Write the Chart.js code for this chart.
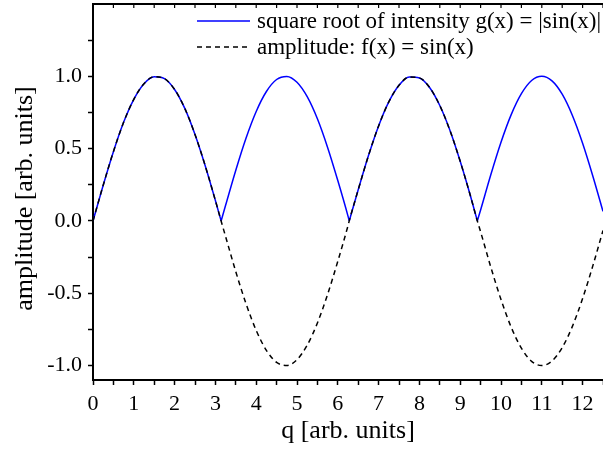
<!DOCTYPE html>
<html>
<head>
<meta charset="utf-8">
<script src="https://cdn.jsdelivr.net/npm/chart.js@4.4.1/dist/chart.umd.min.js"></script>
<style>
  html, body { margin: 0; padding: 0; background: #fff; }
</style>
</head>
<body>
<canvas id="sineChart" width="603" height="449"></canvas>
<script>
// amplitude f(x), every 0.25 plus the zero crossings
const qValues = [0, 0.25, 0.5, 0.75, 1.0, 1.25, 1.5, 1.75, 2.0, 2.25, 2.5, 2.75, 3.0, 3.14,
  3.25, 3.5, 3.75, 4.0, 4.25, 4.5, 4.75, 5.0, 5.25, 5.5, 5.75, 6.0, 6.25, 6.28,
  6.5, 6.75, 7.0, 7.25, 7.5, 7.75, 8.0, 8.25, 8.5, 8.75, 9.0, 9.25, 9.42,
  9.5, 9.75, 10.0, 10.25, 10.5, 10.75, 11.0, 11.25, 11.5, 11.75, 12.0, 12.25, 12.5];
const amplitude = [0, 0.247, 0.479, 0.682, 0.841, 0.949, 0.997, 0.984, 0.909, 0.778, 0.598, 0.382, 0.141, 0,
  -0.108, -0.351, -0.572, -0.757, -0.895, -0.978, -0.999, -0.959, -0.859, -0.706, -0.508, -0.279, -0.033, 0,
  0.215, 0.450, 0.657, 0.823, 0.938, 0.995, 0.989, 0.923, 0.798, 0.625, 0.412, 0.174, 0,
  -0.075, -0.319, -0.544, -0.735, -0.880, -0.971, -1.000, -0.968, -0.876, -0.729, -0.537, -0.311, -0.066];

// g(x) = |sin(x)|: null after each cusp so every arch keeps a sharp tip
const gQ = [0, 0.25, 0.5, 0.75, 1.0, 1.25, 1.5, 1.75, 2.0, 2.25, 2.5, 2.75, 3.0, 3.14, 3.14,
  3.14, 3.25, 3.5, 3.75, 4.0, 4.25, 4.5, 4.75, 5.0, 5.25, 5.5, 5.75, 6.0, 6.25, 6.28, 6.28,
  6.28, 6.5, 6.75, 7.0, 7.25, 7.5, 7.75, 8.0, 8.25, 8.5, 8.75, 9.0, 9.25, 9.42, 9.42,
  9.42, 9.5, 9.75, 10.0, 10.25, 10.5, 10.75, 11.0, 11.25, 11.5, 11.75, 12.0, 12.25, 12.5];
const intensityRoot = [0, 0.247, 0.479, 0.682, 0.841, 0.949, 0.997, 0.984, 0.909, 0.778, 0.598, 0.382, 0.141, 0, null,
  0, 0.108, 0.351, 0.572, 0.757, 0.895, 0.978, 0.999, 0.959, 0.859, 0.706, 0.508, 0.279, 0.033, 0, null,
  0, 0.215, 0.450, 0.657, 0.823, 0.938, 0.995, 0.989, 0.923, 0.798, 0.625, 0.412, 0.174, 0, null,
  0, 0.075, 0.319, 0.544, 0.735, 0.880, 0.971, 1.000, 0.968, 0.876, 0.729, 0.537, 0.311, 0.066];

const xMajor = [0, 1, 2, 3, 4, 5, 6, 7, 8, 9, 10, 11, 12];
const yMajor = [-1.0, -0.5, 0.0, 0.5, 1.0];
const labelG = "square root of intensity g(x) = |sin(x)|";
const labelF = "amplitude: f(x) = sin(x)";

const serif = "'Liberation Serif', 'Times New Roman', serif";

// minor ticks every half step between the major ones
const xTicks = [];
for (let i = 0; i <= 25; i++) xTicks.push(i * 0.5);
const yTicks = [];
for (let i = -4; i <= 5; i++) yTicks.push(i * 0.25);

const toPoints = (qs, ys) => qs.map((q, i) => ({ x: q, y: ys[i] }));

// top frame with inward ticks + legend drawn inside the plot
const framePlugin = {
  id: "frame",
  afterDraw(chart) {
    const ctx = chart.ctx;
    const area = chart.chartArea;
    const xs = chart.scales.x;
    ctx.save();
    ctx.strokeStyle = "#000";
    ctx.lineWidth = 2;
    ctx.beginPath();
    ctx.moveTo(area.left - 1, area.top);
    ctx.lineTo(area.right, area.top);
    ctx.stroke();
    ctx.lineWidth = 1.2;
    xTicks.forEach((v) => {
      const px = xs.getPixelForValue(v);
      ctx.beginPath();
      ctx.moveTo(px, area.top);
      ctx.lineTo(px, area.top + 4);
      ctx.stroke();
    });

    // legend
    const rows = [
      { ds: chart.data.datasets[0], y: 21 },
      { ds: chart.data.datasets[1], y: 47 },
    ];
    ctx.font = "23px " + serif;
    ctx.textBaseline = "middle";
    ctx.fillStyle = "#000";
    rows.forEach((r) => {
      ctx.strokeStyle = r.ds.borderColor;
      ctx.lineWidth = 1.5;
      ctx.setLineDash(r.ds.borderDash || []);
      ctx.beginPath();
      ctx.moveTo(197, r.y);
      ctx.lineTo(250, r.y);
      ctx.stroke();
      ctx.setLineDash([]);
      ctx.fillText(r.ds.label, 257, r.y + 1);
    });
    ctx.restore();
  },
};

new Chart(document.getElementById("sineChart"), {
  type: "line",
  data: {
    datasets: [
      {
        label: labelG,
        data: toPoints(gQ, intensityRoot),
        borderColor: "#0000ff",
        borderWidth: 1.5,
        pointRadius: 0,
        cubicInterpolationMode: "monotone",
        spanGaps: false,
        order: 1,
      },
      {
        label: labelF,
        data: toPoints(qValues, amplitude),
        borderColor: "#000000",
        borderWidth: 1.5,
        borderDash: [5, 4],
        pointRadius: 0,
        cubicInterpolationMode: "monotone",
        order: 0,
      },
    ],
  },
  options: {
    responsive: false,
    animation: false,
    devicePixelRatio: 1,
    layout: { padding: { top: 4, right: 0, left: 0, bottom: 0 } },
    plugins: { legend: { display: false }, tooltip: { enabled: false } },
    scales: {
      x: {
        type: "linear",
        min: 0,
        max: 12.5,
        afterBuildTicks: (s) => { s.ticks = xTicks.map((v) => ({ value: v })); },
        afterFit: (s) => { s.height = 69; s.paddingLeft = 0; s.paddingRight = 0; },
        ticks: {
          color: "#000",
          font: { family: serif, size: 22 },
          padding: 6,
          maxRotation: 0,
          autoSkip: false,
          callback: (v) => (xMajor.includes(v) ? String(v) : ""),
        },
        grid: { drawOnChartArea: false, tickLength: 5, tickWidth: 1.5, color: "#000" },
        border: { color: "#000", width: 2 },
        title: {
          display: true,
          text: "q [arb. units]",
          color: "#000",
          font: { family: serif, size: 26 },
          padding: { top: 0, bottom: 2 },
        },
      },
      y: {
        type: "linear",
        min: -1.1,
        max: 1.5,
        afterBuildTicks: (s) => { s.ticks = yTicks.map((v) => ({ value: v })); },
        afterFit: (s) => { s.width = 93; s.paddingTop = 0; s.paddingBottom = 0; },
        ticks: {
          color: "#000",
          font: { family: serif, size: 22 },
          padding: 6,
          autoSkip: false,
          callback: (v) => (yMajor.includes(v) ? v.toFixed(1) : ""),
        },
        grid: { drawOnChartArea: false, tickLength: 5, tickWidth: 1.5, color: "#000" },
        border: { color: "#000", width: 2 },
        title: {
          display: true,
          // trailing spaces nudge the rotated title a little lower, as in the original
          text: "amplitude [arb. units]  ",
          color: "#000",
          font: { family: serif, size: 26 },
          padding: { top: 10, bottom: 0 },
        },
      },
    },
  },
  plugins: [framePlugin],
});
</script>
</body>
</html>
